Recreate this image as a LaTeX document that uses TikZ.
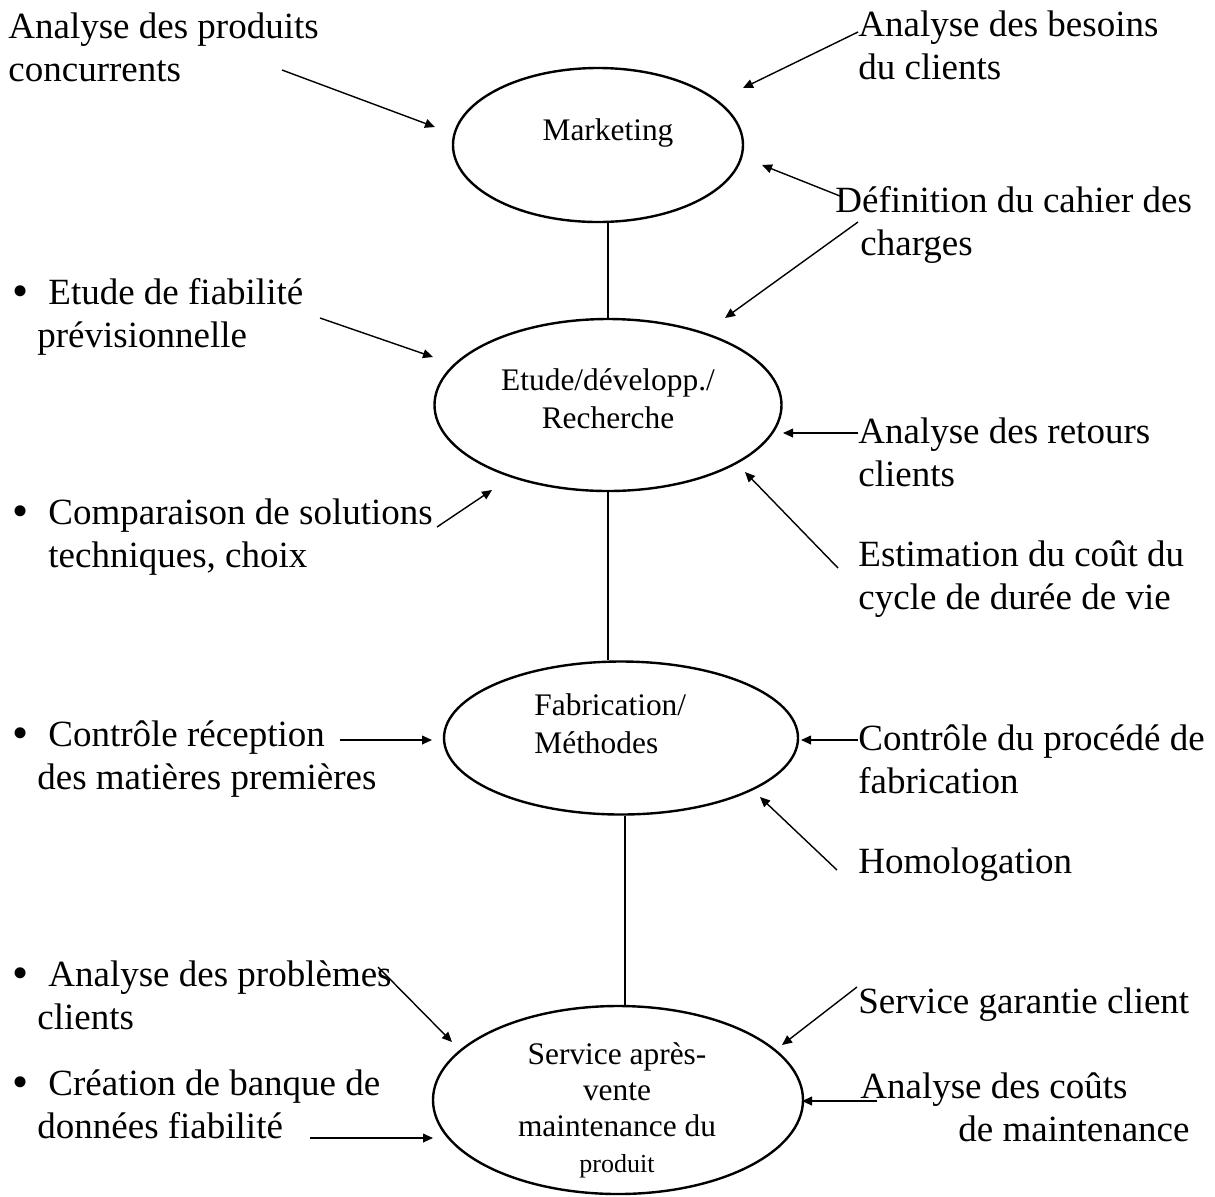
\documentclass[tikz,border=0pt]{standalone}
\usepackage{fontspec}
\setmainfont{Liberation Serif}
\usetikzlibrary{arrows.meta, shapes.geometric}

\tikzset{
  phase/.style={ellipse, draw, line width=1.2pt, inner sep=0pt},
  phasetext/.style={font=\fontsize{15.7}{19}\selectfont, align=center, inner sep=0pt},
  lbl/.style={font=\fontsize{18.5}{21.5}\selectfont, align=left, anchor=base west, inner sep=0pt},
  feed/.style={-{Triangle[length=5pt,width=4.4pt]}, line width=0.7pt},
  link/.style={line width=1pt}
}
\newcommand{\bul}{\llap{\makebox[12.5pt][l]{\raisebox{-1.2pt}{\fontsize{23}{23}\selectfont •}}}\hspace*{5.5pt}}

\begin{document}
\begin{tikzpicture}[x=0.5pt, y=-0.5pt]
    \useasboundingbox (0,0) rectangle (1215,1196);
    % Phases of the product life
    \node[phase, minimum width=145pt, minimum height=77pt] (mkt) at (598,145) {};
    \node[phase, minimum width=173.5pt, minimum height=86pt] (etu) at (608,405) {};
    \node[phase, minimum width=177pt, minimum height=76.5pt] (fab) at (621,738) {};
    \node[phase, minimum width=185pt, minimum height=94pt] (svc) at (618,1100) {};
    \node[phasetext] (mktt) at (608,133) {Marketing};
    \node[phasetext] (etut) at (608,399) {Etude/développ./\\Recherche};
    \node[phasetext, align=left, anchor=west] (fabt) at (534,724) {Fabrication/\\Méthodes};
    \node[phasetext, font=\fontsize{15.7}{18}\selectfont] (svct) at (617,1110)
        {Service après-\\vente\\maintenance du\\{\fontsize{13}{18}\selectfont produit}};
    % Links between phases
    \draw[link] (etu.north |- mkt.south) -- (etu.north);
    \draw[link] (etu.south) -- (etu.south |- fab.north);
    \draw[link] ([xshift=2pt]fab.south) -- ([xshift=2pt]fab.south |- svc.north);
    % Left labels (base = last line)
    \node[lbl] (prod) at (8,81) {Analyse des produits\\concurrents};
    \node[lbl] (fiab) at (37,347) {\bul Etude de fiabilité\\prévisionnelle};
    \node[lbl] (comp) at (37,567) {\bul Comparaison de solutions\\\hspace*{5.5pt}techniques, choix};
    \node[lbl] (recp) at (37,789) {\bul Contrôle réception\\des matières premières};
    \node[lbl] (prob) at (37,1029) {\bul Analyse des problèmes\\clients};
    \node[lbl] (banq) at (37,1138) {\bul Création de banque de\\données fiabilité};
    % Right labels
    \node[lbl] (besn) at (858,79) {Analyse des besoins\\du clients};
    \node[lbl] (defn) at (835,255) {Définition du cahier des\\\hspace*{12.5pt}charges};
    \node[lbl] (retr) at (858,486) {Analyse des retours\\clients};
    \node[lbl] (estm) at (858,609) {Estimation du coût du\\cycle de durée de vie};
    \node[lbl] (proc) at (858,793) {Contrôle du procédé de\\fabrication};
    \node[lbl] (homo) at (858,873) {Homologation};
    \node[lbl] (gara) at (858,1013) {Service garantie client};
    \node[lbl] (cout) at (860,1141) {Analyse des coûts\\\hspace*{49pt}de maintenance};
    % Arrow ends
    \coordinate (prodA) at (282,70);   \coordinate (mktA) at (435,127);
    \coordinate (besnA) at (858,32);   \coordinate (mktB) at (743,88);
    \coordinate (defnA) at (840,196);  \coordinate (mktC) at (762,165);
    \coordinate (defnB) at (858,222);  \coordinate (etuA) at (725,318);
    \coordinate (fiabA) at (320,318);  \coordinate (etuB) at (433,357);
    \coordinate (compA) at (437,527);  \coordinate (etuC) at (492,490);
    \coordinate (retrA) at (858,433);  \coordinate (etuD) at (783,433);
    \coordinate (estmA) at (838,568);  \coordinate (etuE) at (745,472);
    \coordinate (recpA) at (340,740);  \coordinate (fabA) at (432,740);
    \coordinate (procA) at (858,740);  \coordinate (fabB) at (801,740);
    \coordinate (homoA) at (837,870);  \coordinate (fabC) at (760,797);
    \coordinate (probA) at (378,967);  \coordinate (svcA) at (452,1042);
    \coordinate (garaA) at (857,987);  \coordinate (svcB) at (782,1045);
    \coordinate (banqA) at (310,1138); \coordinate (svcC) at (433,1138);
    \coordinate (coutA) at (877,1101); \coordinate (svcD) at (802,1101);
    % Feeding arrows
    \foreach \s/\e in {prodA/mktA, besnA/mktB, defnA/mktC, defnB/etuA,
                       fiabA/etuB, compA/etuC, retrA/etuD, estmA/etuE,
                       recpA/fabA, procA/fabB, homoA/fabC,
                       probA/svcA, garaA/svcB, banqA/svcC, coutA/svcD}
        \draw[feed] (\s) -- (\e);
\end{tikzpicture}
\end{document}
